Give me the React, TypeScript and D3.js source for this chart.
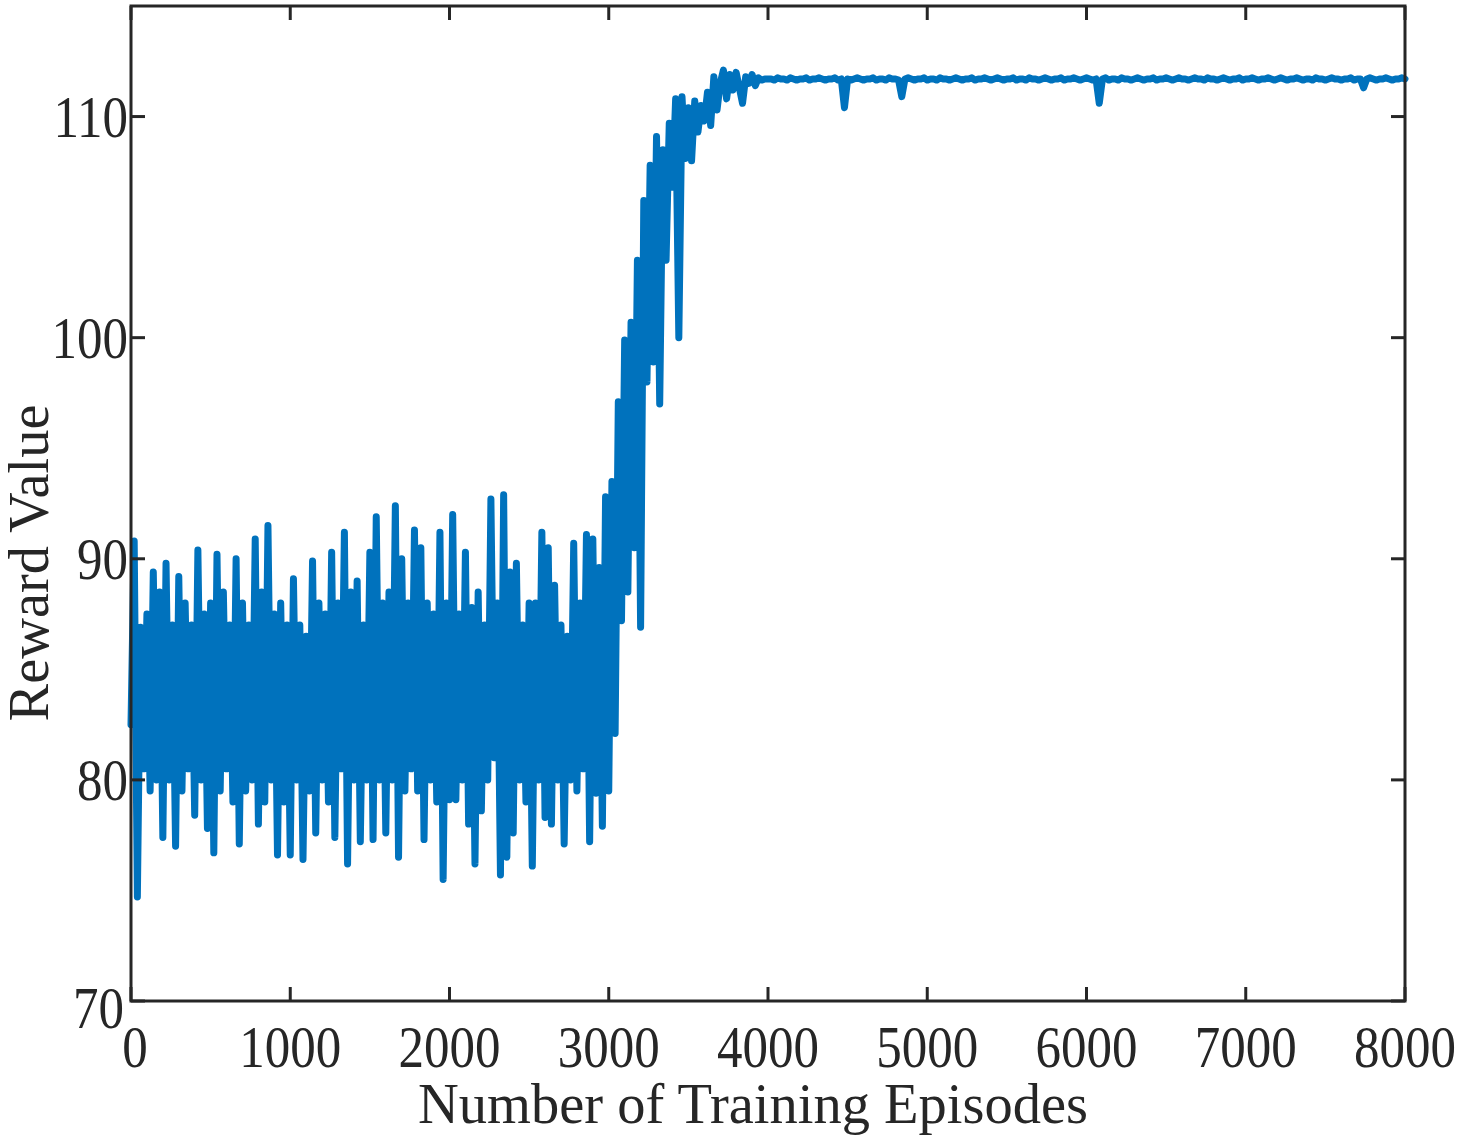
import React from "react";
import * as d3 from "d3";

// ---- data ----
const STEP = 20; // episodes between samples

// episodes 0 .. 3000
const noisePhase: number[] = [
  82.5, 90.8, 74.7, 86.9, 80.5, 87.5, 79.5, 89.4, 80, 88.5,
  77.4, 89.8, 80, 87, 77.0, 89.2, 79.5, 88, 80.5, 87,
  78.4, 90.4, 80, 87.5, 77.8, 88, 76.7, 90.2, 79.5, 88.5,
  80.5, 87, 79, 90.0, 77.1, 88, 79.5, 87, 80, 90.9,
  78, 88.5, 79, 91.5, 80, 87.5, 76.6, 88, 79, 87,
  76.6, 89.1, 80, 87, 76.4, 86.5, 79.5, 89.9, 77.6, 88,
  80, 87.5, 79, 90.3, 77.4, 88, 80.5, 91.2, 76.2, 88.5,
  80, 89, 77.2, 87, 80, 90.3, 77.3, 91.9, 80, 88,
  77.6, 88.5, 80, 92.4, 76.5, 90.0, 79.5, 88, 80.5, 91.3,
  79.5, 90.5, 77.3, 88, 80, 87.5, 79, 91.2, 75.5, 88,
  79.1, 92.0, 79.1, 87.5, 80, 90.3, 78, 87.8, 76.2, 88.5,
  78.6, 87, 80, 92.7, 81, 88, 75.7, 92.9, 76.5, 89.4,
  77.6, 89.8, 80, 87, 79, 88, 76.1, 88, 80, 91.2,
  78.3, 90.5, 78.0, 88.8, 80, 87, 77.1, 86.5, 80, 90.7,
  79.5, 88, 80.5, 91.1, 77.2, 90.9, 79.4, 89.6, 77.9, 92.8,
  79.5,
];

// episodes 3020 .. 4000
const risePhase: number[] = [
  93.5, 82.1, 97.1, 87.2, 99.9, 88.5, 100.7, 90.5, 103.5, 86.9,
  106.2, 98.0, 107.8, 98.9, 109.1, 97.0, 108.5, 103.5, 109.7, 106.8,
  110.8, 100.0, 110.9, 108.1, 110.4, 108.0, 110.7, 109.3, 110.5, 109.8,
  111.1, 109.6, 111.8, 110.3, 111.5, 112.1, 110.8, 111.9, 111.2, 112.0,
  111.3, 110.6, 111.8, 111.5, 111.9, 111.4, 111.75, 111.65, 111.7, 111.7,
];

// episodes 4020 .. 8000
const plateauPhase: number[] = [
  111.7, 111.65, 111.75, 111.7, 111.7, 111.65, 111.75, 111.7, 111.65, 111.7,
  111.7, 111.75, 111.65, 111.7, 111.7, 111.75, 111.7, 111.65, 111.7, 111.7,
  111.75, 111.65, 111.7, 110.4, 111.7, 111.65, 111.7, 111.75, 111.7, 111.65,
  111.7, 111.7, 111.75, 111.65, 111.7, 111.7, 111.65, 111.75, 111.7, 111.7,
  111.65, 110.9, 111.7, 111.75, 111.7, 111.65, 111.7, 111.7, 111.75, 111.65,
  111.7, 111.7, 111.65, 111.75, 111.7, 111.7, 111.65, 111.7, 111.75, 111.7,
  111.65, 111.7, 111.7, 111.75, 111.65, 111.7, 111.7, 111.75, 111.7, 111.65,
  111.7, 111.75, 111.7, 111.65, 111.7, 111.7, 111.75, 111.65, 111.7, 111.7,
  111.65, 111.75, 111.7, 111.7, 111.65, 111.7, 111.75, 111.7, 111.65, 111.7,
  111.7, 111.75, 111.65, 111.7, 111.7, 111.75, 111.7, 111.65, 111.7, 111.75,
  111.7, 111.65, 111.7, 110.6, 111.7, 111.75, 111.65, 111.7, 111.7, 111.65,
  111.75, 111.7, 111.7, 111.65, 111.7, 111.75, 111.7, 111.65, 111.7, 111.7,
  111.75, 111.65, 111.7, 111.7, 111.75, 111.7, 111.65, 111.7, 111.75, 111.7,
  111.7, 111.65, 111.7, 111.75, 111.7, 111.7, 111.65, 111.75, 111.7, 111.7,
  111.65, 111.7, 111.75, 111.7, 111.65, 111.7, 111.7, 111.75, 111.65, 111.7,
  111.7, 111.75, 111.7, 111.65, 111.7, 111.7, 111.75, 111.7, 111.65, 111.7,
  111.75, 111.7, 111.65, 111.7, 111.7, 111.75, 111.7, 111.65, 111.7, 111.7,
  111.65, 111.75, 111.7, 111.7, 111.65, 111.7, 111.75, 111.7, 111.7, 111.65,
  111.7, 111.7, 111.75, 111.65, 111.7, 111.7, 111.3, 111.7, 111.75, 111.7,
  111.65, 111.7, 111.7, 111.75, 111.7, 111.65, 111.7, 111.7, 111.75, 111.7,
];

const xTicks: number[] = [0, 1000, 2000, 3000, 4000, 5000, 6000, 7000, 8000];
const yTicks: number[] = [70, 80, 90, 100, 110];
const xDomain: [number, number] = [0, 8000];
const yDomain: [number, number] = [70, 115];
const xTitle = "Number of Training Episodes";
const yTitle = "Reward Value";

// ---- layout ----
const W = 1460;
const H = 1139;
const left = 131;
const right = 1405;
const top = 6;
const bottom = 1001;
const axisColor = "#262626";
const lineColor = "#0072BD";
const fontFamily = "'Liberation Serif', 'Times New Roman', Times, serif";
const tickFont = 51;
const tickStretch = 1.14;
const tickLen = 14;

export default function App() {
  const rewards = [...noisePhase, ...risePhase, ...plateauPhase];
  const data = rewards.map((v, i) => ({ ep: i * STEP, v }));

  const x = d3.scaleLinear().domain(xDomain).range([left, right]);
  const y = d3.scaleLinear().domain(yDomain).range([bottom, top]);

  const line = d3
    .line<{ ep: number; v: number }>()
    .x((d) => x(d.ep))
    .y((d) => y(d.v));

  return (
    <svg
      width={W}
      height={H}
      style={{ position: "absolute", left: 0, top: 0, background: "#fff" }}
    >
      <rect x={0} y={0} width={W} height={H} fill="#fff" />
      {/* data line */}
      <path
        d={line(data) || ""}
        fill="none"
        stroke={lineColor}
        strokeWidth={7}
        strokeLinejoin="round"
        strokeLinecap="round"
      />
      {/* frame */}
      <rect
        x={left}
        y={top}
        width={right - left}
        height={bottom - top}
        fill="none"
        stroke={axisColor}
        strokeWidth={3}
      />
      {/* x ticks */}
      {xTicks.map((t, i) => (
        <g key={"xt" + t}>
          <line x1={x(t)} x2={x(t)} y1={bottom} y2={bottom - tickLen} stroke={axisColor} strokeWidth={3} />
          <line x1={x(t)} x2={x(t)} y1={top} y2={top + tickLen} stroke={axisColor} strokeWidth={3} />
          <text
            transform={`translate(${x(t) + (i === 0 ? 4 : 0)},${bottom + 66}) scale(1,${tickStretch})`}
            textAnchor="middle"
            fontFamily={fontFamily}
            fontSize={tickFont}
            fill={axisColor}
          >
            {t}
          </text>
        </g>
      ))}
      {/* y ticks */}
      {yTicks.map((t, i) => (
        <g key={"yt" + t}>
          <line x1={left} x2={left + tickLen} y1={y(t)} y2={y(t)} stroke={axisColor} strokeWidth={3} />
          <line x1={right} x2={right - tickLen} y1={y(t)} y2={y(t)} stroke={axisColor} strokeWidth={3} />
          <text
            transform={`translate(${left - (i === 0 ? 7 : 3)},${y(t) + (i === 0 ? 27 : 20)}) scale(1,${tickStretch})`}
            textAnchor="end"
            fontFamily={fontFamily}
            fontSize={tickFont}
            fill={axisColor}
          >
            {t}
          </text>
        </g>
      ))}
      {/* axis titles */}
      <text
        x={753}
        y={1123}
        textAnchor="middle"
        fontFamily={fontFamily}
        fontSize={58}
        fill={axisColor}
        textLength={670}
        lengthAdjust="spacingAndGlyphs"
      >
        {xTitle}
      </text>
      <text
        transform="translate(48,563) rotate(-90)"
        textAnchor="middle"
        fontFamily={fontFamily}
        fontSize={58}
        fill={axisColor}
        textLength={317}
        lengthAdjust="spacingAndGlyphs"
      >
        {yTitle}
      </text>
    </svg>
  );
}
